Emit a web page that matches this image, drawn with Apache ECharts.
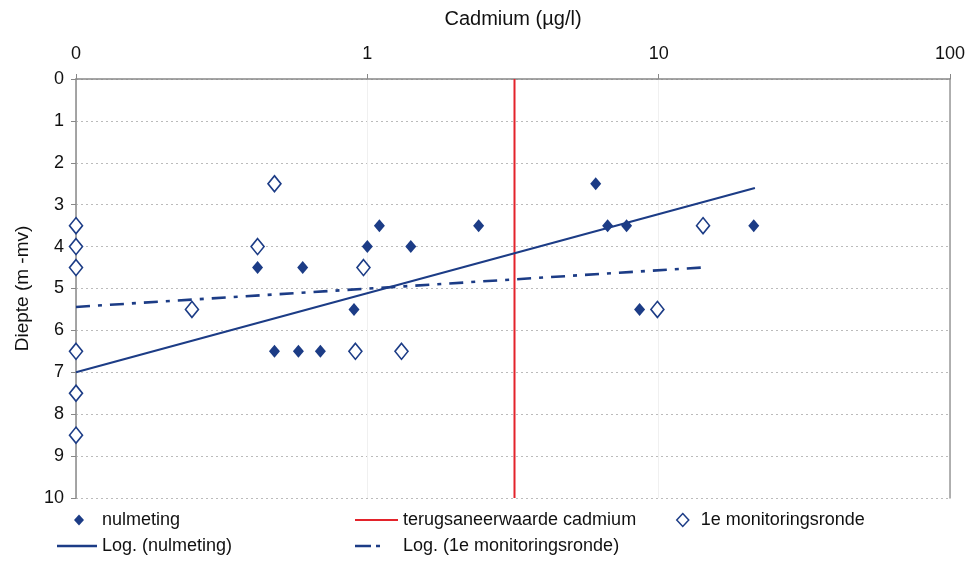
<!DOCTYPE html>
<html>
<head>
<meta charset="utf-8">
<script src="https://cdn.jsdelivr.net/npm/echarts@6/dist/echarts.min.js"></script>
<style>
html,body{margin:0;padding:0;background:#fff;}
#chart{width:971px;height:563px;}
</style>
</head>
<body>
<div id="chart"></div>
<script>
// ---- data ----
const nulX = [0.42, 0.48, 0.58, 0.69, 0.60, 0.90, 1.0, 1.10, 1.41, 2.41, 6.08, 6.68, 7.76, 8.6, 21.2];
const nulY = [4.5, 6.5, 6.5, 6.5, 4.5, 5.5, 4.0, 3.5, 4.0, 3.5, 2.5, 3.5, 3.5, 5.5, 3.5];
const monX = [0.1, 0.1, 0.1, 0.1, 0.1, 0.1, 0.25, 0.42, 0.48, 0.91, 0.97, 1.31, 9.9, 14.2];
const monY = [3.5, 4.0, 4.5, 6.5, 7.5, 8.5, 5.5, 4.0, 2.5, 6.5, 4.5, 6.5, 5.5, 3.5];
const refX = [3.2, 3.2];
const refY = [0, 10];
const trendNulX = [0.1, 21.4];
const trendNulY = [7.0, 2.6];
const trendMonX = [0.1, 14.1];
const trendMonY = [5.44, 4.5];
const xTickLabels = {0.1: '0', 1: '1', 10: '10', 100: '100'};

const zip = (xs, ys) => xs.map((x, i) => [x, ys[i]]);
const NAVY = '#1c3c86';
const RED = '#e3232b';
const FONT = '"Liberation Sans", Arial, sans-serif';

const chart = echarts.init(document.getElementById('chart'));
const legendText = {fontFamily: FONT, fontSize: 18, color: '#111'};
const solidIcon = 'path://M0,0H40V2.5H0Z';
const redIcon = 'path://M0,0H43V2H0Z';
const dashDotIcon = 'path://M0,0H16V2.6H0Z M21,0H25V2.6H21Z M42.9,0H43V0.01H42.9Z';
chart.setOption({
  animation: false,
  backgroundColor: '#fff',
  grid: {left: 76, right: 21, top: 79, bottom: 65},
  xAxis: {
    type: 'log', logBase: 10, min: 0.1, max: 100, position: 'top',
    name: 'Cadmium (µg/l)', nameLocation: 'middle', nameGap: 50,
    nameTextStyle: {fontFamily: FONT, fontSize: 20, color: '#111'},
    axisLine: {show: true, lineStyle: {color: '#888', width: 1.5}},
    axisTick: {show: true, inside: false, length: 5, lineStyle: {color: '#888'}},
    minorTick: {show: false},
    axisLabel: {
      fontFamily: FONT, fontSize: 18, color: '#111', margin: 16,
      formatter: v => { const k = Math.round(v * 10) / 10; return xTickLabels[k] !== undefined ? xTickLabels[k] : ''; }
    },
    splitLine: {show: true, lineStyle: {color: '#f0f0f0', width: 1}}
  },
  yAxis: [{
    type: 'value', inverse: true, min: 0, max: 10, interval: 1,
    name: 'Diepte (m -mv)', nameLocation: 'middle', nameGap: 44, nameRotate: 90,
    nameTextStyle: {fontFamily: FONT, fontSize: 19, color: '#111'},
    axisLine: {show: true, lineStyle: {color: '#888', width: 1.5}},
    axisTick: {show: true, length: 5, lineStyle: {color: '#888'}},
    axisLabel: {fontFamily: FONT, fontSize: 18, color: '#111', margin: 12},
    splitLine: {show: true, lineStyle: {color: '#bbb', type: [2, 3], width: 1}}
  }, {
    type: 'value', inverse: true, min: 0, max: 10, position: 'right',
    axisLine: {show: true, lineStyle: {color: '#999', width: 1.5}},
    axisTick: {show: false}, axisLabel: {show: false}, splitLine: {show: false}
  }],
  legend: [
    {data: [{name: 'nulmeting', icon: 'diamond'}], left: 74, top: 511, padding: 0,
     itemWidth: 10, itemHeight: 11, textStyle: Object.assign({padding: [0, 0, 0, 13]}, legendText)},
    {data: [{name: 'terugsaneerwaarde cadmium', icon: redIcon}], left: 355, top: 511, padding: 0,
     itemWidth: 43, itemHeight: 2, itemStyle: {color: RED}, textStyle: legendText},
    {data: [{name: '1e monitoringsronde', icon: 'diamond'}], left: 676, top: 511, padding: 0,
     itemWidth: 12, itemHeight: 13, itemStyle: {color: '#fff', borderColor: NAVY, borderWidth: 1.5},
     textStyle: Object.assign({padding: [0, 0, 0, 7]}, legendText)},
    {data: [{name: 'Log. (nulmeting)', icon: solidIcon}], left: 57, top: 537, padding: 0,
     itemWidth: 40, itemHeight: 2.5, itemStyle: {color: NAVY}, textStyle: legendText},
    {data: [{name: 'Log. (1e monitoringsronde)', icon: dashDotIcon}], left: 355, top: 537, padding: 0,
     itemWidth: 43, itemHeight: 2.6, itemStyle: {color: NAVY}, textStyle: legendText}
  ],
  series: [
    {name: 'terugsaneerwaarde cadmium', type: 'line', data: zip(refX, refY), showSymbol: false, symbol: 'none',
     lineStyle: {color: RED, width: 2}, itemStyle: {color: RED}, z: 2},
    {name: 'Log. (nulmeting)', type: 'line', data: zip(trendNulX, trendNulY), showSymbol: false, symbol: 'none',
     lineStyle: {color: NAVY, width: 2.2}, itemStyle: {color: NAVY}, z: 3},
    {name: 'Log. (1e monitoringsronde)', type: 'line', data: zip(trendMonX, trendMonY), showSymbol: false, symbol: 'none',
     lineStyle: {color: NAVY, width: 2.6, type: [14, 8, 4, 8]}, itemStyle: {color: NAVY}, z: 3},
    {name: 'nulmeting', type: 'scatter', data: zip(nulX, nulY), symbol: 'diamond', symbolSize: [11, 13],
     itemStyle: {color: NAVY, opacity: 1}, clip: false, z: 4},
    {name: '1e monitoringsronde', type: 'scatter', data: zip(monX, monY), symbol: 'diamond', symbolSize: [13, 16],
     itemStyle: {color: '#fff', borderColor: NAVY, borderWidth: 1.6, opacity: 1}, clip: false, z: 4}
  ]
});
</script>
</body>
</html>
